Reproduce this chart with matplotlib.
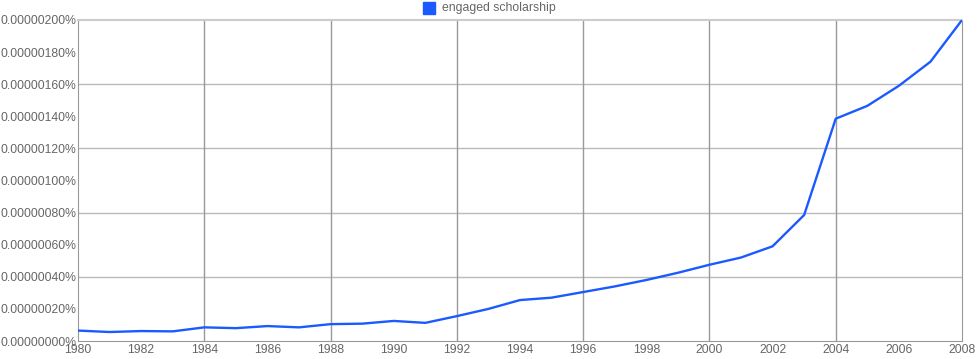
import matplotlib.pyplot as plt
from matplotlib.patches import Rectangle

plt.rcParams['font.family'] = ['Liberation Sans', 'DejaVu Sans']

# yearly frequency of "engaged scholarship", in units of 1e-8 percent
years = list(range(1980, 2009))
freq = [6.5, 5.6, 6.2, 6.0, 8.5, 8.0, 9.3, 8.5, 10.5, 10.8,
        12.5, 11.3, 15.5, 20.0, 25.5, 27.0, 30.5, 34.0, 38.0, 42.5,
        47.5, 52.0, 59.0, 78.5, 138.5, 146.5, 159.0, 174.0, 200.0]
values = [f * 1e-8 for f in freq]
label = 'engaged scholarship'

fig = plt.figure(figsize=(9.78, 3.59), dpi=100)
ax = fig.add_axes([78 / 978, 1 - 341 / 359, 884 / 978, 321 / 359])

# gridlines: horizontal every 0.0000004%, vertical every 4 years
for i in range(1, 5):
    ax.axhline(i * 4e-7, color='#bbbbbb', lw=1, zorder=0)
for yr in range(1984, 2008, 4):
    ax.axvline(yr, color='#999999', lw=1, zorder=0)

ax.plot(years, values, color='#1a5aff', lw=1.7, solid_capstyle='round', zorder=3)

ax.set_xlim(1980, 2008)
ax.set_ylim(0, 2e-6)

ax.set_yticks([i * 2e-7 for i in range(11)])
ax.set_yticklabels([f'{i * 2e-7:.8f}%' for i in range(11)])
ax.set_xticks(range(1980, 2009, 2))

ax.tick_params(which='both', length=0, labelsize=8.8, labelcolor='#666666')
ax.tick_params(axis='y', pad=1)
ax.tick_params(axis='x', pad=2)

for s in ['left', 'bottom', 'right']:
    ax.spines[s].set_color('#999999')
ax.spines['top'].set_color('#cccccc')
ax.spines['top'].set_linewidth(1.5)

# legend at top
fig.patches.append(Rectangle((423 / 978, 1 - 14 / 359), 12 / 978, 12 / 359,
                             transform=fig.transFigure, color='#1a5aff'))
fig.text(442 / 978, 1 - 8 / 359, label, fontsize=8.8, color='#666666', va='center')

fig.savefig('out.png', dpi=100)
